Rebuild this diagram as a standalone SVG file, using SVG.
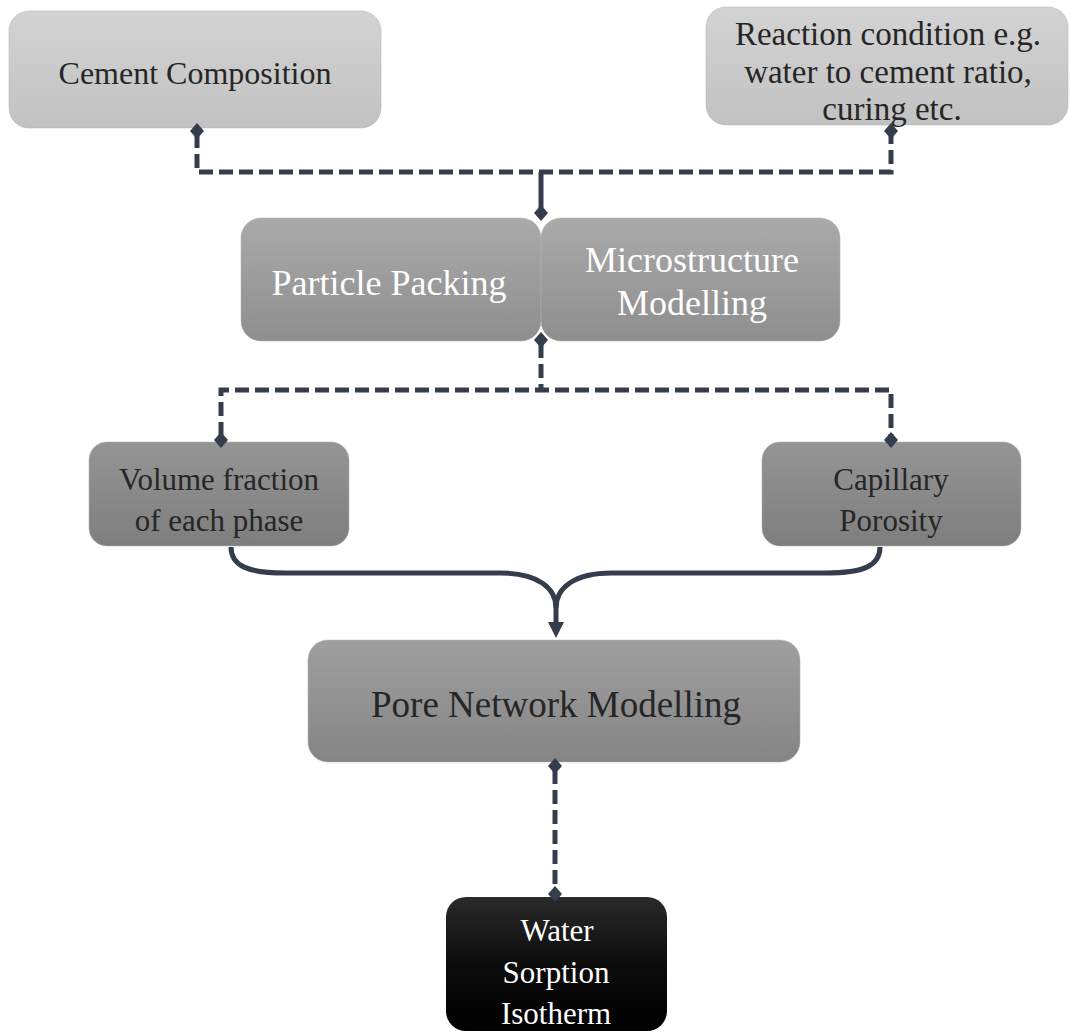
<svg xmlns="http://www.w3.org/2000/svg" width="1070" height="1035" viewBox="0 0 1070 1035">
<defs>
<linearGradient id="gLight" x1="0" y1="0" x2="0" y2="1"><stop offset="0" stop-color="#d3d3d3"/><stop offset="1" stop-color="#c2c2c2"/></linearGradient>
<linearGradient id="gMid" x1="0" y1="0" x2="0" y2="1"><stop offset="0" stop-color="#aaaaaa"/><stop offset="1" stop-color="#8e8e8e"/></linearGradient>
<linearGradient id="gDark" x1="0" y1="0" x2="0" y2="1"><stop offset="0" stop-color="#959595"/><stop offset="1" stop-color="#7e7e7e"/></linearGradient>
<linearGradient id="gPore" x1="0" y1="0" x2="0" y2="1"><stop offset="0" stop-color="#9f9f9f"/><stop offset="1" stop-color="#858585"/></linearGradient>
<linearGradient id="gBlack" x1="0" y1="0" x2="0" y2="1"><stop offset="0" stop-color="#2a2a2a"/><stop offset="0.5" stop-color="#0c0c0c"/><stop offset="1" stop-color="#000000"/></linearGradient>
<path id="dia" d="M-7,0 L0,-8 L7,0 L0,8 Z" fill="#343d4c"/>
<marker id="arr" viewBox="0 0 18 16" markerWidth="18" markerHeight="16" markerUnits="userSpaceOnUse" orient="auto" refX="2" refY="8"><path d="M0,0 L16,8 L0,16 Z" fill="#343d4c"/></marker>
<style>
.box{stroke:#b0b0b0;stroke-opacity:0.5;stroke-width:1}
.dk{fill:#262626}
.wh{fill:#ffffff}
.dash{fill:none;stroke:#343d4c;stroke-width:5;stroke-dasharray:14 6}
.solid{fill:none;stroke:#343d4c;stroke-width:5}
</style>
</defs>
<rect width="1070" height="1035" fill="#ffffff"/>

<g font-family="Liberation Serif, DejaVu Serif, serif" text-anchor="middle">
<g id="node-cement">
<rect class="box" x="9" y="11" width="372" height="117" rx="20" fill="url(#gLight)"/>
<text class="dk" x="195" y="84" font-size="32">Cement Composition</text>
</g>

<g id="node-reaction">
<rect class="box" x="706" y="7" width="362" height="118" rx="20" fill="url(#gLight)"/>
<text class="dk" x="888" y="45" font-size="33">Reaction condition e.g.</text>
<text class="dk" x="888" y="83" font-size="33">water to cement ratio,</text>
<text class="dk" x="892" y="120" font-size="33">curing etc.</text>
</g>

<g id="node-particle">
<rect class="box" x="241" y="218" width="300" height="123" rx="20" fill="url(#gMid)"/>
<text class="wh" x="389" y="295" font-size="36">Particle Packing</text>
</g>

<g id="node-micro">
<rect class="box" x="541" y="218" width="299" height="123" rx="20" fill="url(#gMid)"/>
<text class="wh" x="692" y="272" font-size="36">Microstructure</text>
<text class="wh" x="692" y="315" font-size="36">Modelling</text>
</g>

<g id="node-volume">
<rect class="box" x="89" y="442" width="260" height="104" rx="18" fill="url(#gDark)"/>
<text class="dk" x="219" y="490" font-size="31">Volume fraction</text>
<text class="dk" x="219" y="531" font-size="31">of each phase</text>
</g>

<g id="node-capillary">
<rect class="box" x="762" y="442" width="259" height="104" rx="18" fill="url(#gDark)"/>
<text class="dk" x="891" y="490" font-size="31">Capillary</text>
<text class="dk" x="891" y="531" font-size="31">Porosity</text>
</g>

<g id="node-pore">
<rect class="box" x="308" y="640" width="492" height="122" rx="20" fill="url(#gPore)"/>
<text class="dk" x="556" y="717" font-size="37">Pore Network Modelling</text>
</g>

<g id="node-water">
<rect x="446" y="897" width="221" height="134" rx="20" fill="url(#gBlack)"/>
<text class="wh" x="557" y="941" font-size="31">Water</text>
<text class="wh" x="556" y="983" font-size="31">Sorption</text>
<text class="wh" x="556" y="1024" font-size="31">Isotherm</text>
</g>
</g>

<g id="connectors">
<path class="dash" d="M197,134 V172 H891 V134"/>
<path class="solid" d="M541,172 V208"/>
<path class="dash" d="M541,344 V390"/>
<path class="dash" d="M221,436 V390 H891 V436"/>
<path class="solid" d="M231,547 C231,566 248,573 285,573 L500,573 C538,573 556,588 556,608 L556,624" marker-end="url(#arr)"/>
<path class="solid" d="M880,547 C880,566 863,573 826,573 L612,573 C574,573 556,588 556,608"/>
<path class="dash" d="M555,770 V890"/>
<use href="#dia" x="197" y="131"/>
<use href="#dia" x="891" y="131"/>
<use href="#dia" x="541" y="213"/>
<use href="#dia" x="541" y="340"/>
<use href="#dia" x="221" y="440"/>
<use href="#dia" x="891" y="440"/>
<use href="#dia" x="555" y="766"/>
<use href="#dia" x="555" y="894"/>
</g>
</svg>
